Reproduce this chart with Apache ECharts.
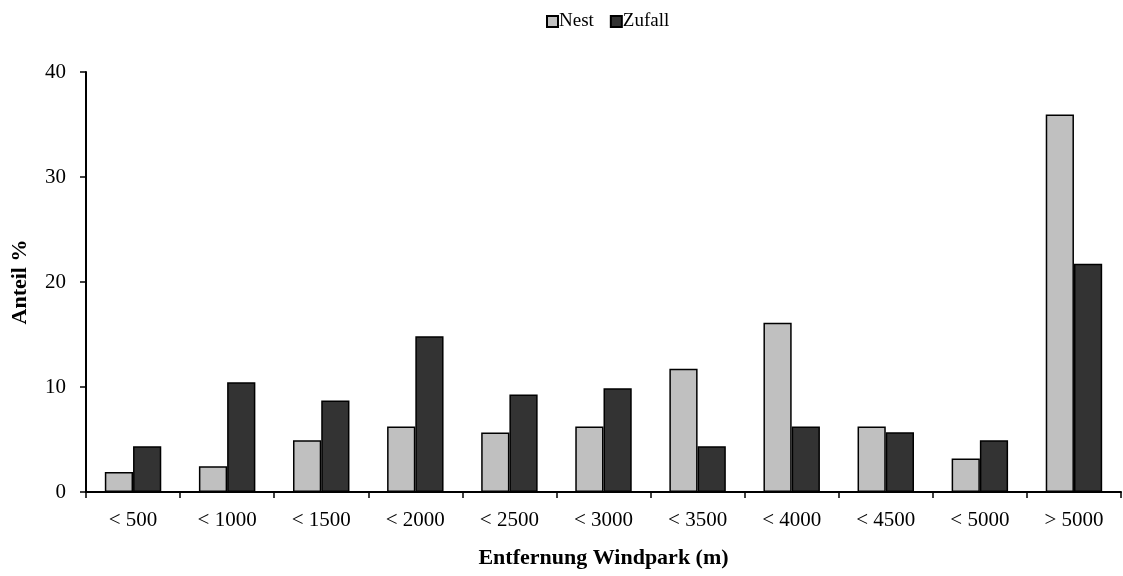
<!DOCTYPE html>
<html>
<head>
<meta charset="utf-8">
<script src="https://cdn.jsdelivr.net/npm/echarts@6/dist/echarts.min.js"></script>
<style>html,body{margin:0;padding:0;background:#fff;}#c{width:1123px;height:576px;}</style>
</head>
<body>
<div id="c"></div>
<script>
var categories = ['< 500', '< 1000', '< 1500', '< 2000', '< 2500', '< 3000', '< 3500', '< 4000', '< 4500', '< 5000', '> 5000'];
var nest = [1.9, 2.45, 4.93, 6.24, 5.67, 6.24, 11.73, 16.11, 6.24, 3.2, 35.95];
var zufall = [4.36, 10.46, 8.71, 14.84, 9.29, 9.89, 4.36, 6.24, 5.7, 4.93, 21.73];
var yTicks = [0, 10, 20, 30, 40];

var font = 'Liberation Serif';
var chart = echarts.init(document.getElementById('c'), null, {renderer: 'canvas'});
chart.setOption({
  animation: false,
  backgroundColor: '#fff',
  textStyle: {fontFamily: font},
  legend: {
    top: 7,
    left: 541,
    itemWidth: 11,
    itemHeight: 11,
    itemGap: 16,
    icon: 'rect',
    textStyle: {fontFamily: font, fontSize: 19, color: '#000', padding: [0, 0, 0, -4]},
    data: ['Nest', 'Zufall']
  },
  grid: {left: 86, right: 2, top: 72, bottom: 84, containLabel: false},
  xAxis: {
    type: 'category',
    data: categories,
    name: 'Entfernung Windpark (m)',
    nameLocation: 'middle',
    nameGap: 55,
    nameTextStyle: {fontFamily: font, fontSize: 22, fontWeight: 'bold', color: '#000'},
    axisLine: {lineStyle: {color: '#000', width: 2}},
    axisTick: {show: true, length: 6, lineStyle: {color: '#000', width: 1.5}},
    axisLabel: {fontFamily: font, fontSize: 21, color: '#000', margin: 18},
    splitLine: {show: false}
  },
  yAxis: {
    type: 'value',
    min: yTicks[0],
    max: yTicks[yTicks.length - 1],
    interval: 10,
    name: 'Anteil %',
    nameLocation: 'middle',
    nameGap: 55,
    nameRotate: 90,
    nameTextStyle: {fontFamily: font, fontSize: 22, fontWeight: 'bold', color: '#000'},
    axisLine: {show: true, lineStyle: {color: '#000', width: 2}},
    axisTick: {show: true, length: 6, lineStyle: {color: '#000', width: 1.5}},
    axisLabel: {fontFamily: font, fontSize: 21, color: '#000', margin: 20},
    splitLine: {show: false}
  },
  series: [
    {
      name: 'Nest', type: 'bar', data: nest,
      barGap: '0%', barCategoryGap: '40%',
      itemStyle: {color: '#c0c0c0', borderColor: '#000', borderWidth: 1.5}
    },
    {
      name: 'Zufall', type: 'bar', data: zufall,
      barGap: '0%', barCategoryGap: '40%',
      itemStyle: {color: '#333333', borderColor: '#000', borderWidth: 1.5}
    }
  ]
});
</script>
</body>
</html>
